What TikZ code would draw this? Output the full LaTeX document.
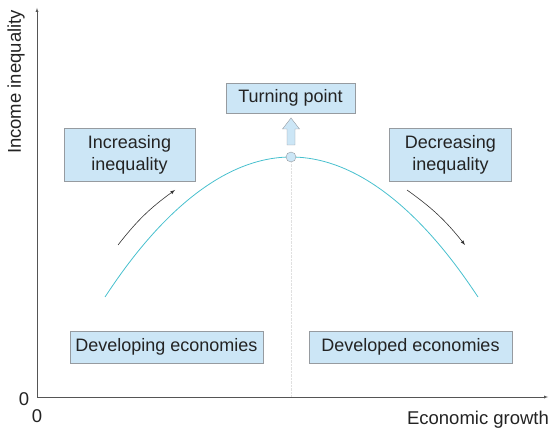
\documentclass[tikz,border=0pt]{standalone}
\usepackage{fontspec}
\setmainfont{Liberation Sans}

\definecolor{boxblue}{RGB}{204,230,246}
\definecolor{boxline}{RGB}{150,155,160}
\definecolor{curvecyan}{RGB}{72,192,206}
\definecolor{axisgray}{RGB}{85,85,85}
\definecolor{textdark}{RGB}{35,35,35}

\tikzset{
    infobox/.style={draw=boxline, fill=boxblue, inner sep=0pt, align=center,
        text=textdark, font=\fontsize{18}{22}\selectfont},
    axislabel/.style={text=textdark, font=\fontsize{18.5}{20}\selectfont},
    trend/.style={->, >=latex, draw=black!80, semithick}
}

\begin{document}
\begin{tikzpicture}[x=1pt, y=-1pt]
    \useasboundingbox (0,0) rectangle (549,430);

    % Axes
    \coordinate (origin) at (37,397);
    \coordinate (ytop) at (37,8);
    \coordinate (xend) at (548,397);
    \draw[->, >=latex, axisgray, thin] (origin) -- (ytop);
    \draw[->, >=latex, axisgray, thin] (origin) -- (xend);
    \node[axislabel] (zeroy) at (24,399) {0};
    \node[axislabel] (zerox) at (37,416) {0};
    \node[axislabel, rotate=90] (ylab) at (16,82) {Income inequality};
    \node[axislabel] (xlab) at (478,420) {Economic growth};

    % Kuznets curve
    \draw[curvecyan, thick] (105,297) parabola bend (291,157) (478,297);
    \node[circle, draw=boxline, fill=boxblue, inner sep=0pt, minimum size=10pt] (peak) at (291,157) {};
    \draw[black!12, densely dotted] (peak) -- (peak |- origin);

    % Turning point
    \node[infobox, minimum width=129pt, minimum height=30pt] (turn) at (290.5,98) {Turning point};
    \draw[boxline, fill=boxblue] (287,145) -- (295,145) -- (295,129) -- (299.5,129)
        -- (291,118) -- (282.5,129) -- (287,129) -- cycle;

    % Phases
    \node[infobox, minimum width=131pt, minimum height=53pt] (inc) at (129.5,154.5) {Increasing\\inequality};
    \node[infobox, minimum width=122pt, minimum height=53pt] (dec) at (450.5,154.5) {Decreasing\\inequality};
    \node[infobox, minimum width=193pt, minimum height=32pt] (devg) at (166.5,347) {Developing economies};
    \node[infobox, minimum width=203pt, minimum height=32pt] (devd) at (410.5,347) {Developed economies};

    % Trend arrows
    \coordinate (incs) at (118,245);
    \coordinate (ince) at (175,190);
    \coordinate (decs) at (407,190);
    \coordinate (dece) at (465,245);
    \draw[trend] (incs) to[bend left=8] (ince);
    \draw[trend] (decs) to[bend left=8] (dece);
\end{tikzpicture}
\end{document}
